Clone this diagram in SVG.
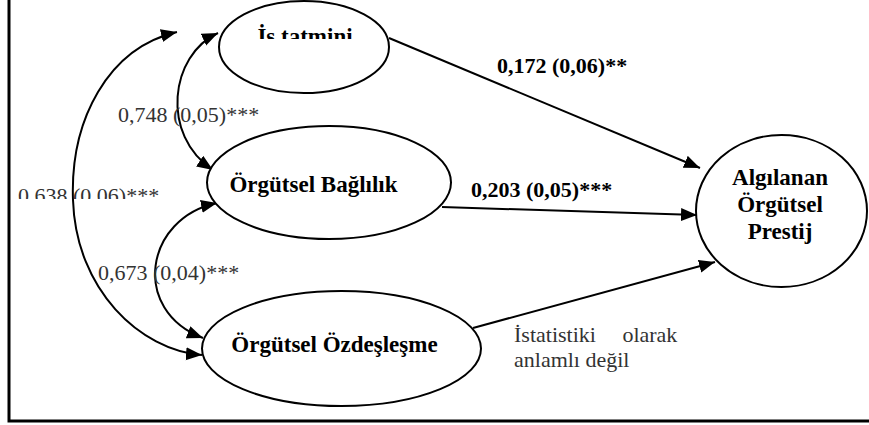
<svg xmlns="http://www.w3.org/2000/svg" width="869" height="425" viewBox="0 0 869 425">
  <style>
    .node { fill: #ffffff; stroke: #000000; stroke-width: 2; }
    .edge { fill: none; stroke: #000000; stroke-width: 2; }
    .frame { fill: none; stroke: #000000; stroke-width: 3; }
    text { font-family: 'Liberation Serif', 'DejaVu Serif', serif; }
    .lbl { font-size: 23px; font-weight: bold; fill: #000000; }
    .coef { font-size: 22px; font-weight: bold; fill: #000000; }
    .cov { font-size: 22px; fill: #333333; }
  </style>
  <defs>
    <marker id="arrow" markerUnits="userSpaceOnUse" markerWidth="17" markerHeight="14" refX="16" refY="6.5" orient="auto-start-reverse">
      <path d="M0,0 L16,6.5 L0,13 Z" fill="#000000"/>
    </marker>
    <clipPath id="clipTop"><rect x="0" y="0" width="869" height="39"/></clipPath>
    <clipPath id="clipCov"><rect x="0" y="150" width="200" height="49"/></clipPath>
  </defs>

  <rect width="869" height="425" fill="#ffffff"/>

  <!-- frame -->
  <path class="frame" d="M9,0 L9,421 L869,421"/>

  <!-- connectors -->
  <g id="connectors">
    <path class="edge" d="M389,38 L700,168" marker-end="url(#arrow)"/>
    <path class="edge" d="M442,207 L697,215" marker-end="url(#arrow)"/>
    <path class="edge" d="M473,328 L715,262" marker-end="url(#arrow)"/>
    <path class="edge" d="M218,33 C170,55 160,135 213,170" marker-start="url(#arrow)" marker-end="url(#arrow)"/>
    <path class="edge" d="M217,203 C145,218 130,310 203,338" marker-start="url(#arrow)" marker-end="url(#arrow)"/>
    <path class="edge" d="M177,32 C108,48 70,120 73,200 C76,290 140,350 202,355" marker-start="url(#arrow)" marker-end="url(#arrow)"/>

    <text class="coef" x="497" y="73">0,172 (0,06)**</text>
    <text class="coef" x="471" y="197">0,203 (0,05)***</text>
    <text class="cov" x="118" y="122">0,748 (0,05)***</text>
    <text class="cov" x="18" y="203" clip-path="url(#clipCov)">0.638 (0.06)***</text>
    <text class="cov" x="98" y="280">0,673 (0,04)***</text>
    <text class="cov" x="514" y="342" word-spacing="21">İstatistiki olarak</text>
    <text class="cov" x="514" y="367">anlamlı değil</text>
  </g>

  <!-- nodes -->
  <g id="is-tatmini">
    <ellipse class="node" cx="304" cy="47" rx="85" ry="46"/>
    <text class="lbl" x="305" y="44" text-anchor="middle" clip-path="url(#clipTop)">İs tatmini</text>
  </g>
  <g id="orgutsel-baglilik">
    <ellipse class="node" cx="329" cy="182.5" rx="122" ry="56.5"/>
    <text class="lbl" x="313.5" y="192" text-anchor="middle">Örgütsel Bağlılık</text>
  </g>
  <g id="orgutsel-ozdeslesme">
    <ellipse class="node" cx="341.5" cy="348.5" rx="139.5" ry="57.5"/>
    <text class="lbl" x="334.5" y="352" text-anchor="middle">Örgütsel Özdeşleşme</text>
  </g>
  <g id="algilanan-prestij">
    <ellipse class="node" cx="781.5" cy="211" rx="85.5" ry="76"/>
    <text class="lbl" x="780" y="185" text-anchor="middle">Algılanan</text>
    <text class="lbl" x="780" y="212" text-anchor="middle">Örgütsel</text>
    <text class="lbl" x="780" y="239" text-anchor="middle">Prestij</text>
  </g>
</svg>
